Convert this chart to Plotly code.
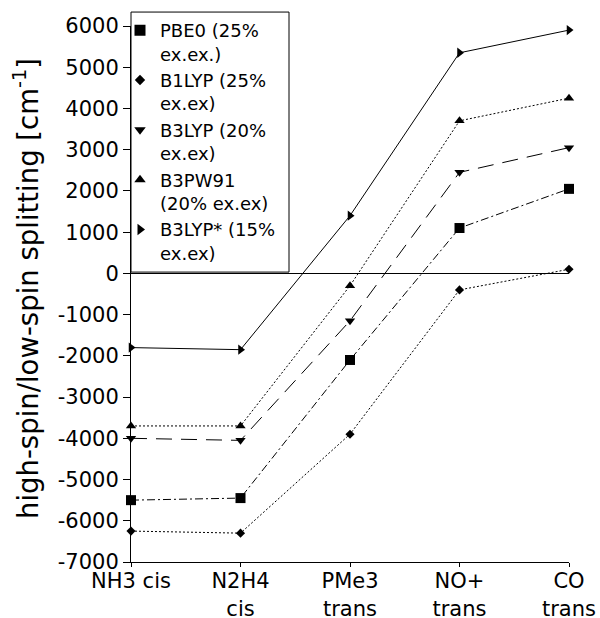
import plotly.graph_objects as go

# Ligand positions along the x axis
ligands = ["NH3 cis", "N2H4<br>cis", "PMe3<br>trans", "NO+<br>trans", "CO<br>trans"]

# y-axis tick values and their labels (plain hyphen minus)
y_ticks = [-7000, -6000, -5000, -4000, -3000, -2000, -1000, 0,
           1000, 2000, 3000, 4000, 5000, 6000]
y_ticktext = [str(v) for v in y_ticks]

# High-spin/low-spin splitting per functional [cm^-1]
pbe0 = [-5500, -5450, -2100, 1100, 2050]
b1lyp = [-6250, -6300, -3900, -400, 100]
b3lyp = [-4000, -4050, -1150, 2450, 3050]
b3pw91 = [-3700, -3700, -300, 3700, 4250]
b3lyp_star = [-1800, -1850, 1400, 5350, 5900]

series = [
    ("PBE0 (25%<br>ex.ex.)", pbe0, "square", 10, "8px,3px,2px,3px"),
    ("B1LYP (25%<br>ex.ex)", b1lyp, "diamond", 7, "2px,2px"),
    ("B3LYP (20%<br>ex.ex)", b3lyp, "triangle-down", 9, "16px,9px"),
    ("B3PW91<br>(20% ex.ex)", b3pw91, "triangle-up", 9, "2px,2px"),
    ("B3LYP* (15%<br>ex.ex)", b3lyp_star, "triangle-right", 9, "solid"),
]

xpos = list(range(len(ligands)))

# plot area in pixels: left 131, right 569, top 24, bottom 562
PW, PH = 438.0, 538.0

fig = go.Figure()
for name, vals, sym, size, dash in series:
    fig.add_trace(go.Scatter(
        x=xpos, y=vals, mode="lines+markers", showlegend=False,
        line=dict(color="black", width=1, dash=dash),
        marker=dict(symbol=sym, size=size, color="black"),
        cliponaxis=False,
    ))
    # marker-only legend entry
    fig.add_trace(go.Scatter(
        x=[None], y=[None], mode="markers", name=name,
        marker=dict(symbol=sym, size=size + 1, color="black"),
    ))

# white framed box behind the legend entries
fig.add_shape(
    type="rect", xref="paper", yref="paper",
    x0=0, x1=(289 - 131) / PW, y0=(562 - 271) / PH, y1=(562 - 10) / PH,
    fillcolor="white", line=dict(color="black", width=1), layer="above",
)

# y-axis title
fig.add_annotation(
    text="high-spin/low-spin splitting [cm<sup>-1</sup>]",
    xref="paper", yref="paper", x=(26 - 131) / PW, y=(562 - 288) / PH,
    xanchor="center", yanchor="middle", textangle=-90,
    showarrow=False, font=dict(size=27.5),
)

fig.update_layout(
    width=600, height=618,
    margin=dict(l=131, r=31, t=24, b=56),
    plot_bgcolor="white", paper_bgcolor="white",
    font=dict(family="DejaVu Sans", size=21, color="black"),
    showlegend=True,
    legend=dict(
        x=-11 / PW, y=(562 - 10) / PH, xanchor="left", yanchor="top",
        bgcolor="rgba(0,0,0,0)", borderwidth=0,
        font=dict(size=18), valign="top", itemwidth=30,
        tracegroupgap=0,
    ),
    xaxis=dict(
        range=[0, 4], tickvals=xpos, ticktext=ligands,
        showline=True, linecolor="black", linewidth=1,
        ticks="outside", ticklen=4, tickcolor="black",
        ticklabelstandoff=-4,
        showgrid=False, zeroline=False, automargin=False,
    ),
    yaxis=dict(
        range=[-7000, 6000], tickvals=y_ticks, ticktext=y_ticktext,
        showline=True, linecolor="black", linewidth=1,
        ticks="outside", ticklen=7, tickcolor="black",
        showgrid=False, zeroline=True, zerolinecolor="black", zerolinewidth=1,
        automargin=False,
    ),
)

fig.write_html("out.html")
